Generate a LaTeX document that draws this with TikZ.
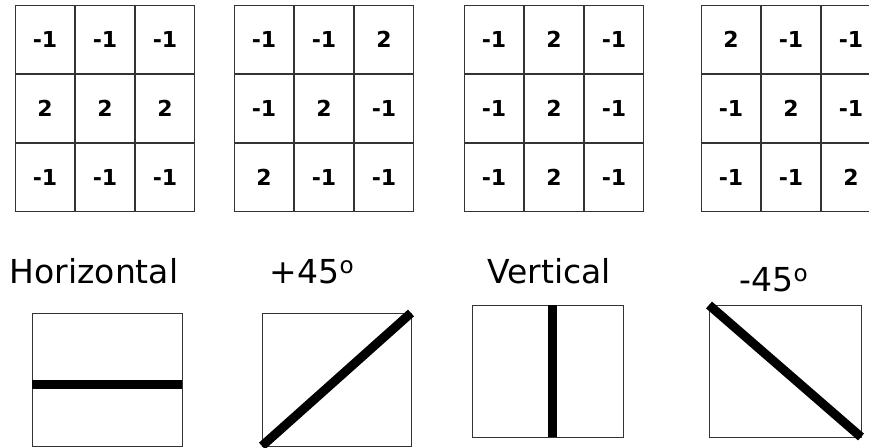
\documentclass[tikz,border=0pt]{standalone}
\usepackage{fontspec}
\setmainfont{DejaVu Sans}
\usetikzlibrary{matrix,positioning}
\newcommand\digitsfont{\fontsize{22}{24}\selectfont\bfseries}
\newcommand\titlefont{\fontsize{33}{36}\selectfont}
\definecolor{gridgray}{RGB}{51,51,51}

\begin{document}
\begin{tikzpicture}[x=1pt,y=-1pt,
  cell/.style={draw=gridgray,line width=1pt,minimum width=59pt,minimum height=68pt,
    inner sep=0pt,outer sep=0pt,font=\digitsfont},
  kernel/.style={matrix of nodes,nodes={cell},column sep=0pt,row sep=0pt,
    inner sep=0pt,outer sep=0pt,anchor=north west},
  panel/.style={draw=gridgray,line width=1pt,inner sep=0pt,outer sep=0pt,anchor=north west},
  stroke/.style={line width=9pt},
  title/.style={font=\titlefont,inner sep=0pt,anchor=base}]
  \useasboundingbox (0,0) rectangle (869,447);

  % the four 3x3 masks
  \matrix (hor) [kernel] at (15,5) {
    -1 & -1 & -1 \\
     2 &  2 &  2 \\
    -1 & -1 & -1 \\
  };
  \matrix (pos) [kernel] at (234,5) {
    -1 & -1 &  2 \\
    -1 &  2 & -1 \\
     2 & -1 & -1 \\
  };
  \matrix (ver) [kernel] at (464,5) {
    -1 & 2 & -1 \\
    -1 & 2 & -1 \\
    -1 & 2 & -1 \\
  };
  \matrix (neg) [kernel] at (701,5) {
     2 & -1 & -1 \\
    -1 &  2 & -1 \\
    -1 & -1 &  2 \\
  };

  % directions
  \node[title] (hortitle) at (94,283) {Horizontal};
  \node[title] (postitle) at (312,283) {+45\textsuperscript{o}};
  \node[title] (vertitle) at (549,283) {Vertical};
  \node[title] (negtitle) at (774,291) {-45\textsuperscript{o}};

  \node[panel,minimum width=150pt,minimum height=133pt] (horbox) at (32,313) {};
  \node[panel,minimum width=149pt,minimum height=133pt] (posbox) at (262,313) {};
  \node[panel,minimum width=151pt,minimum height=132pt] (verbox) at (472,305) {};
  \node[panel,minimum width=152pt,minimum height=132pt] (negbox) at (709,305) {};

  \draw[stroke] ([yshift=-4.5pt]horbox.west) -- ([yshift=-4.5pt]horbox.east);
  \draw[stroke] (posbox.south west) -- (posbox.north east);
  \draw[stroke] ([xshift=5pt]verbox.north) -- ([xshift=5pt]verbox.south);
  \draw[stroke] (negbox.north west) -- (negbox.south east);
\end{tikzpicture}
\end{document}
